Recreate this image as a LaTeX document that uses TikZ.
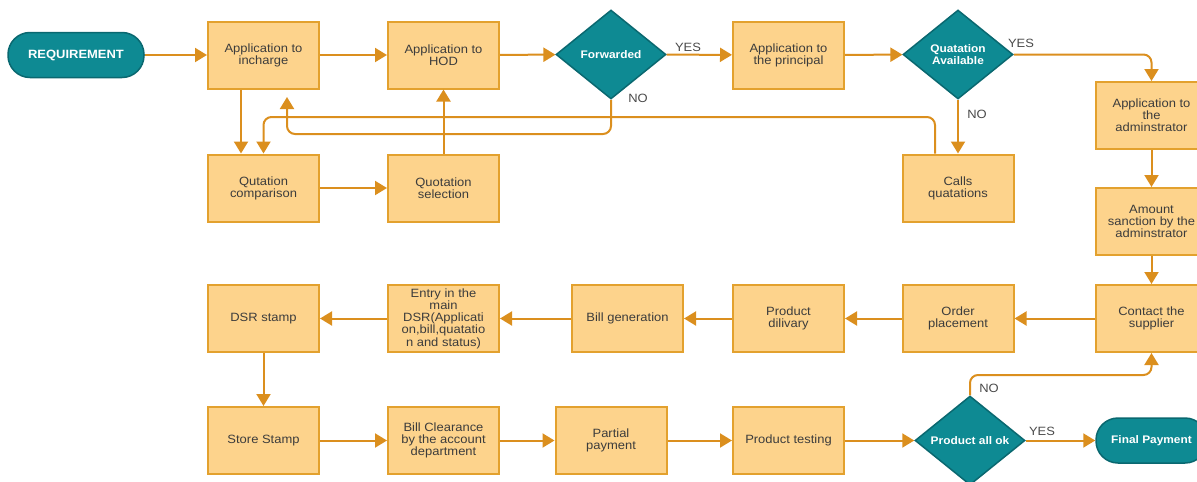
\documentclass[tikz,border=0pt]{standalone}
\usepackage{fontspec}
\setmainfont{Liberation Sans}[FakeStretch=1.08]
\usetikzlibrary{shapes.geometric,arrows.meta,calc}
\definecolor{boxfill}{HTML}{FDD38C}
\definecolor{boxedge}{HTML}{E3A12E}
\definecolor{linecol}{HTML}{DB8F1E}
\definecolor{tealfill}{HTML}{0E8A93}
\definecolor{tealedge}{HTML}{0A6870}
\definecolor{boxtext}{HTML}{3C3C3C}
\definecolor{labtext}{HTML}{4A4A4A}
\tikzset{
  x=1pt, y=-1pt,
  procbox/.style={rectangle, draw=boxedge, fill=boxfill, line width=2pt,
    minimum width=111pt, minimum height=67pt, inner sep=1pt, align=center,
    text=boxtext, font=\fontsize{12}{12.2}\selectfont},
  termbox/.style={rectangle, rounded corners=22pt, draw=tealedge, fill=tealfill, line width=1.5pt,
    minimum height=45pt, inner sep=1pt, align=center, text=white,
    font=\fontsize{11}{12}\selectfont\bfseries},
  decbox/.style={diamond, draw=tealedge, fill=tealfill, line width=1.5pt,
    minimum width=110pt, minimum height=89pt, inner sep=0pt, align=center, text=white,
    font=\fontsize{11}{12}\selectfont\bfseries},
  conn/.style={draw=linecol, line width=2pt, rounded corners=8pt,
    -{Triangle[length=12pt,width=14pt]}},
  lab/.style={text=labtext, font=\fontsize{12}{12}\selectfont, inner sep=0pt}
}
\begin{document}
\begin{tikzpicture}
\useasboundingbox (0,0) rectangle (1197,482);
\clip (0,0) rectangle (1197,482);
% row 1
\node[termbox, minimum width=136pt, font=\fontsize{12}{12}\selectfont\bfseries] (req) at (76,55) {REQUIREMENT};
\node[procbox] (inch) at (263.5,55) {Application to\\incharge};
\node[procbox] (hod) at (443.5,55) {Application to\\HOD};
\node[decbox] (fwd) at (611,54.5) {Forwarded};
\node[procbox] (prin) at (788.5,55) {Application to\\the principal};
\node[decbox] (qa) at (958,54.5) {Quatation\\Available};
\node[procbox] (admin) at (1151.5,115.5) {Application to\\the\\adminstrator};
\node[procbox] (amt) at (1151.5,221.5) {Amount\\sanction by the\\adminstrator};
% row 2
\node[procbox] (qc) at (263.5,188) {Qutation\\comparison};
\node[procbox] (qs) at (443.5,188) {Quotation\\selection};
\node[procbox] (calls) at (958,188) {Calls\\quatations};
% row 3
\node[procbox] (supp) at (1151.5,318.5) {Contact the\\supplier};
\node[procbox] (order) at (958,318.5) {Order\\placement};
\node[procbox] (deliv) at (788.5,318.5) {Product\\dilivary};
\node[procbox] (bill) at (627.5,318.5) {Bill generation};
\node[procbox] (entry) at (443.5,318.5) {Entry in the\\main\\DSR(Applicati\\on,bill,quatatio\\n and status)};
\node[procbox] (dsr) at (263.5,318.5) {DSR stamp};
% row 4
\node[procbox] (store) at (263.5,440.5) {Store Stamp};
\node[procbox] (clear) at (443.5,440.5) {Bill Clearance\\by the account\\department};
\node[procbox] (part) at (611,440.5) {Partial\\payment};
\node[procbox] (test) at (788.5,440.5) {Product testing};
\node[decbox] (pok) at (970,440.5) {Product all ok};
\node[termbox, minimum width=111pt] (final) at (1151.5,440.5) {Final Payment};
% helper coordinates
\coordinate (yUp) at (0,117);
\coordinate (yLo) at (0,134);
\coordinate (yNo) at (0,375);
\coordinate (fwdend) at (287,97);
% connectors
\draw[conn] (req) -- (inch);
\draw[conn] (inch) -- (hod);
\draw[conn] (hod) -- (fwd);
\draw[conn] (fwd) -- (prin);
\draw[conn] (prin) -- (qa);
\draw[conn] (qa.east) -| (admin.north);
\draw[conn] (qa.south) -- (calls.north);
\draw[conn] ([xshift=-22.5pt]inch.south) -- ([xshift=-22.5pt]qc.north);
\draw[conn] ([xshift=-23pt]calls.north) |- (qc.north |- yUp) -- (qc.north);
\draw[conn] (fwd.south) |- (fwdend |- yLo) -- (fwdend);
\draw[conn] (qc) -- (qs);
\draw[conn] (qs) -- (hod);
\draw[conn] (admin) -- (amt);
\draw[conn] (amt) -- (supp);
\draw[conn] (supp) -- (order);
\draw[conn] (order) -- (deliv);
\draw[conn] (deliv) -- (bill);
\draw[conn] (bill) -- (entry);
\draw[conn] (entry) -- (dsr);
\draw[conn] (dsr) -- (store);
\draw[conn] (store) -- (clear);
\draw[conn] (clear) -- (part);
\draw[conn] (part) -- (test);
\draw[conn] (test) -- (pok);
\draw[conn] (pok) -- (final);
\draw[conn] (pok.north) |- (supp.south |- yNo) -- (supp.south);
% labels
\node[lab] (l1) at (688,47) {YES};
\node[lab] (l2) at (638,98) {NO};
\node[lab] (l3) at (1021,43) {YES};
\node[lab] (l4) at (977,114) {NO};
\node[lab] (l5) at (989,388) {NO};
\node[lab] (l6) at (1042,431) {YES};
\end{tikzpicture}
\end{document}
